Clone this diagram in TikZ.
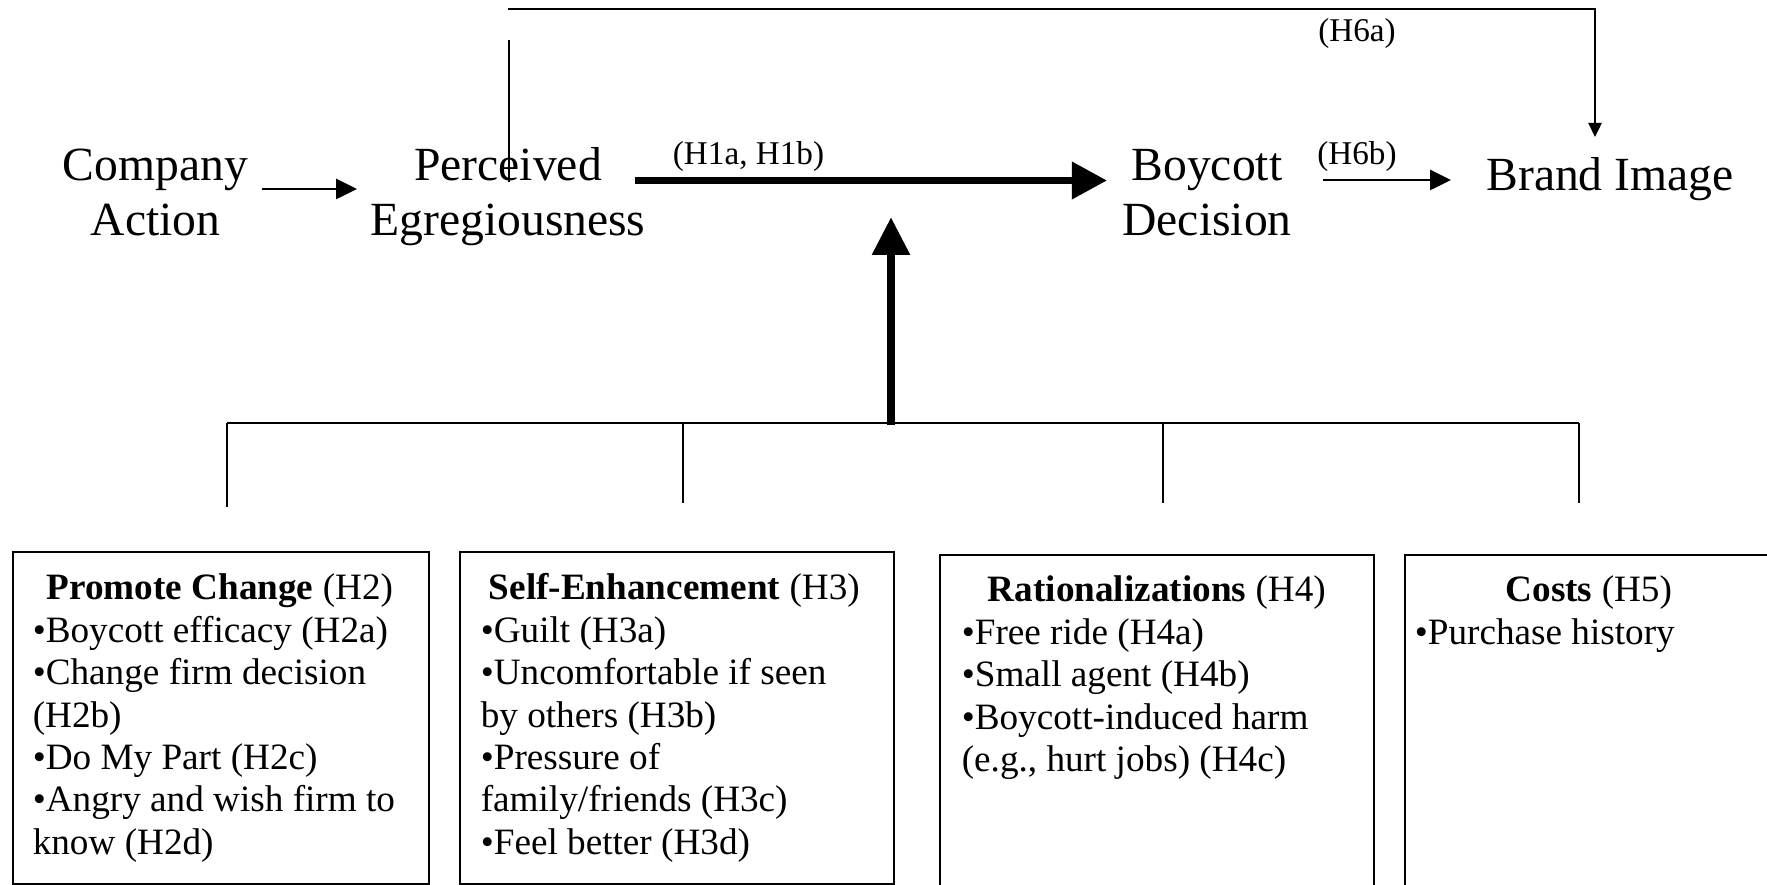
\documentclass[tikz,border=0pt]{standalone}
\usepackage{fontspec}
\setmainfont{Liberation Serif}
\usetikzlibrary{arrows.meta}
\begin{document}
\begin{tikzpicture}[x=0.25pt,y=-0.25pt,
  lbl/.style={inner sep=0pt, anchor=base},
  big/.style={font=\fontsize{11.9}{13.75}\selectfont},
  hyp/.style={font=\fontsize{8.3}{10}\selectfont},
  boxtxt/.style={inner sep=0pt, anchor=base west, font=\fontsize{9.3}{10.6}\selectfont},
  frame/.style={draw, line width=0.45pt, inner sep=0pt, anchor=north west},
  busline/.style={line width=0.5pt},
  dropline/.style={line width=0.35pt},
  thinarrow/.style={line width=0.5pt, -{Triangle[length=5.2pt,width=5pt]}},
  toparrow/.style={line width=0.42pt, -{Triangle[length=3.5pt,width=3.3pt]}},
  thickarrow/.style={line width=1.8pt, -{Triangle[length=8.8pt,width=9pt]}},
  uparrow/.style={line width=2.2pt, -{Triangle[length=9.5pt,width=9pt]}},
]
\useasboundingbox (0,0) rectangle (1767,885);
\clip (0,0) rectangle (1767,885);

% main concepts
\node[lbl,big] (ca) at (155.5,181) {\parbox[t]{80pt}{\centering Company\\Action}};
\node[lbl,big] (pe) at (508,181) {\parbox[t]{90pt}{\centering Perceived\\Egregiousness}};
\node[lbl,big] (bd) at (1207,181) {\parbox[t]{80pt}{\centering Boycott\\Decision}};
\node[lbl,big] (bi) at (1610,191) {Brand Image};

% hypothesis labels
\node[lbl,hyp] (h1) at (748.5,165) {(H1a, H1b)};
\node[lbl,hyp] (h6b) at (1357,165) {(H6b)};
\node[lbl,hyp] (h6a) at (1357,42) {(H6a)};

% connector end points
\coordinate (ca-out) at (262,189);
\coordinate (pe-in) at (357,189);
\coordinate (pe-out) at (635,180.5);
\coordinate (bd-in) at (1107,180.5);
\coordinate (bd-out) at (1323,180);
\coordinate (bi-in) at (1451,180);
\coordinate (pe-up) at (509,182);
\coordinate (pe-upend) at (509,40);
\coordinate (top-start) at (508,9);
\coordinate (bi-top) at (1595,137);
\coordinate (mod-base) at (891,425);
\coordinate (mod-tip) at (891,217);
\coordinate (bus-l) at (227,423);
\coordinate (bus-r) at (1579,423);
\coordinate (d1) at (227,507);
\coordinate (d2t) at (683,423);
\coordinate (d2) at (683,503);
\coordinate (d3t) at (1163,423);
\coordinate (d3) at (1163,503);
\coordinate (d4) at (1579,503);

\draw[thinarrow] (ca-out) -- (pe-in);
\draw[thickarrow] (pe-out) -- (bd-in);
\draw[thinarrow] (bd-out) -- (bi-in);
\draw[dropline] (pe-up) -- (pe-upend);
\draw[toparrow] (top-start) -| (bi-top);
\draw[uparrow] (mod-base) -- (mod-tip);
\draw[busline] (bus-l) -- (bus-r);
\draw[dropline] (bus-l) -- (d1);
\draw[dropline] (d2t) -- (d2);
\draw[dropline] (d3t) -- (d3);
\draw[dropline] (bus-r) -- (d4);

% boxes
\node[frame, minimum width=104pt, minimum height=83pt] (b1) at (12,551) {};
\node[frame, minimum width=108.5pt, minimum height=83pt] (b2) at (459,551) {};
\node[frame, minimum width=108.5pt, minimum height=88pt] (b3) at (939,554) {};
\node[frame, minimum width=98pt, minimum height=88pt] (b4) at (1404,554) {};

\node[boxtxt] (t1) at (32,600) {\parbox[t]{93.5pt}{\raggedright\makebox[\linewidth]{\textbf{Promote Change} (H2)}\\•Boycott efficacy (H2a)\\•Change firm decision\\(H2b)\\•Do My Part (H2c)\\•Angry and wish firm to\\know (H2d)}};
\node[boxtxt] (t2) at (480,600) {\parbox[t]{96.75pt}{\raggedright\makebox[\linewidth]{\textbf{Self-Enhancement} (H3)}\\•Guilt (H3a)\\•Uncomfortable if seen\\by others (H3b)\\•Pressure of\\family/friends (H3c)\\•Feel better (H3d)}};
\node[boxtxt] (t3) at (961,602) {\parbox[t]{97.5pt}{\raggedright\makebox[\linewidth]{\textbf{Rationalizations} (H4)}\\•Free ride (H4a)\\•Small agent (H4b)\\•Boycott-induced harm\\(e.g., hurt jobs) (H4c)}};
\node[boxtxt] (t4) at (1414,602) {\parbox[t]{87pt}{\raggedright\makebox[\linewidth]{\textbf{Costs} (H5)}\\•Purchase history}};
\end{tikzpicture}
\end{document}
